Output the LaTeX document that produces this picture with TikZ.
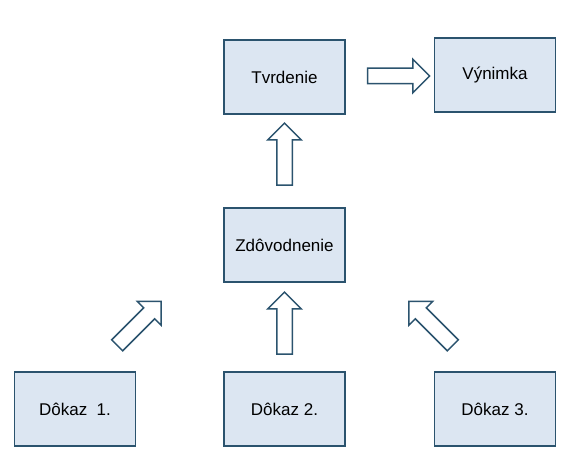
\documentclass[tikz,border=0pt]{standalone}
\usepackage{fontspec}
\setmainfont{Liberation Sans}
\usetikzlibrary{shapes.arrows,calc}
\definecolor{boxfill}{HTML}{DCE6F2}
\definecolor{boxline}{HTML}{2B536E}

\def\boxw{121pt}
\def\boxh{74pt}

\begin{document}
\begin{tikzpicture}[x=1pt,y=-1pt]
\tikzstyle{box}=[rectangle,draw=boxline,fill=boxfill,line width=1.8pt,minimum width=\boxw,minimum height=\boxh,font=\fontsize{17}{20}\selectfont]
\tikzstyle{bigarrow}=[single arrow,draw=boxline,fill=white,line width=1.5pt,minimum height=62pt,inner xsep=0pt,inner ysep=7pt,single arrow head extend=9pt]

\useasboundingbox[fill=white] (0,0) rectangle (575,468);

% Draw the top row
\node[box] (tv) at (284.5,77) {Tvrdenie};
\node[box] (vy) at (495,75) {Výnimka};

% Draw the middle node
\node[box] (zd) at (284.5,245) {Zdôvodnenie};

% Draw the proofs
\node[box] (d1) at (75,409) {Dôkaz~~1.};
\node[box] (d2) at (284.5,409) {Dôkaz 2.};
\node[box] (d3) at (495,409) {Dôkaz 3.};

% Block arrows between the boxes
\node[bigarrow] (a1) at ($(tv.east)!0.5!(vy.west)+(5,0)$) {};
\node[bigarrow,rotate=90] (a2) at ($(zd.north)!0.5!(tv.south)+(0,-3)$) {};
\node[bigarrow,rotate=90] (a3) at ($(d2.north)!0.5!(zd.south)$) {};
\node[bigarrow,rotate=45] (a4) at ($(d1.north east)+(0,-45)$) {};
\node[bigarrow,rotate=135] (a5) at ($(d3.north west)+(0,-45)$) {};
\end{tikzpicture}
\end{document}
